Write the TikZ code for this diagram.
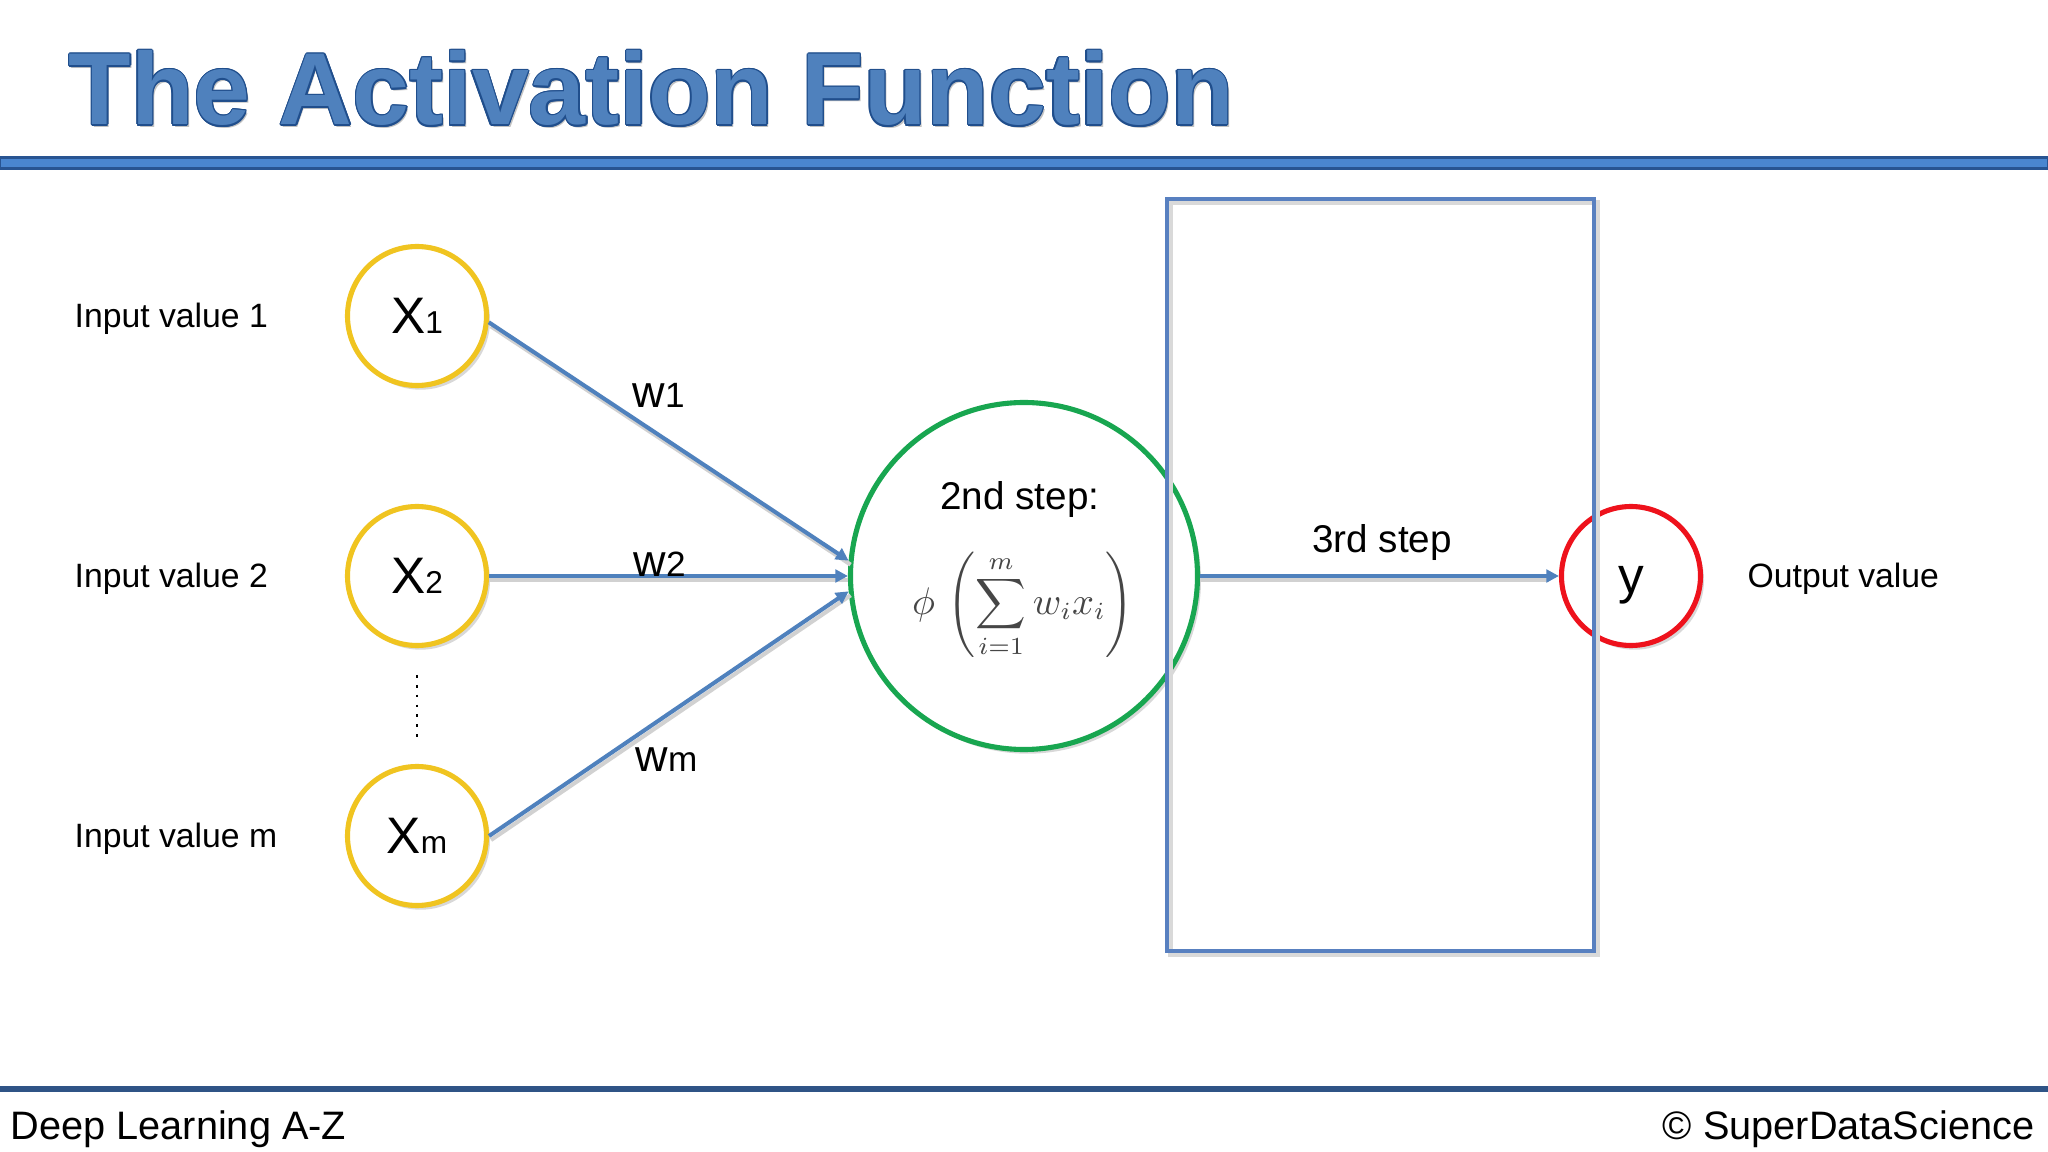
\documentclass[tikz,border=0pt]{standalone}
\usepackage{fontspec}
\setmainfont{Liberation Sans}
\usetikzlibrary{arrows.meta,shadows}
\definecolor{yel}{RGB}{240,196,32}
\definecolor{grn}{RGB}{24,166,80}
\definecolor{rd}{RGB}{238,18,28}
\definecolor{lblue}{RGB}{79,129,189}
\definecolor{boxblue}{RGB}{88,128,192}
\definecolor{titlefill}{RGB}{79,129,189}
\definecolor{titleline}{RGB}{32,78,140}
\definecolor{topfill}{RGB}{74,134,208}
\definecolor{topedge}{RGB}{40,84,146}
\definecolor{botblue}{RGB}{47,84,134}
\definecolor{fgray}{RGB}{70,70,70}
\begin{document}
\begin{tikzpicture}[x=1cm,y=1cm,
  shad/.style={drop shadow={shadow xshift=1pt,shadow yshift=-1.2pt,opacity=0.3}},
  inp/.style={circle, draw=yel, line width=1.45pt, fill=white, minimum size=1.39cm, inner sep=0pt, shad, font=\fontsize{14.6pt}{16pt}\selectfont},
  lbl/.style={anchor=west, inner sep=0pt, font=\fontsize{9.6pt}{11pt}\selectfont},
  conn/.style={draw=lblue, line width=1.15pt, -{Triangle[length=3.6pt,width=3.6pt]}},
  lshad/.style={draw=black!18, line width=1.15pt},
  wl/.style={anchor=base west, inner sep=0pt, font=\fontsize{12.8pt}{14pt}\selectfont},
  ttl/.style={anchor=base west, inner sep=0pt, font=\fontsize{29.1pt}{32pt}\selectfont\bfseries},
  foot/.style={inner sep=0pt, font=\fontsize{11.3pt}{13pt}\selectfont},
]
\useasboundingbox (0,0) rectangle (20.48,-11.52);
\fill[white] (0,0) rectangle (20.48,-11.52);

% title
\node[ttl, text=black!40, opacity=0.6] (tshadow) at (0.70,-1.28) {The Activation Function};
\foreach \a in {0,30,...,330}
  \node[ttl, text=titleline, shift={(\a:0.013)}] (tout\a) at (0.68,-1.25) {The Activation Function};
\node[ttl, text=titlefill] (title) at (0.68,-1.25) {The Activation Function};

% rules
\path[fill=topfill, draw=topedge, line width=0.6pt] (0,-1.575) rectangle (20.48,-1.685);
\fill[botblue] (0,-10.86) rectangle (20.48,-10.92);

% input nodes
\node[inp] (x1) at (4.17,-3.16) {X\fontsize{9pt}{10pt}\selectfont 1};
\node[inp] (x2) at (4.17,-5.76) {X\fontsize{9pt}{10pt}\selectfont 2};
\node[inp] (xm) at (4.17,-8.36) {X\fontsize{9pt}{10pt}\selectfont m};

% neuron
\node[circle, draw=grn, line width=1.45pt, fill=white, minimum size=3.47cm, inner sep=0pt, shad] (s) at (10.24,-5.76) {};
% output
\node[circle, draw=rd, line width=1.45pt, fill=white, minimum size=1.39cm, inner sep=0pt, shad] (y) at (16.31,-5.76) {};

% box
\draw[black!15, line width=1.2pt] (11.705,-2.025) rectangle (15.975,-9.545);
\node[draw=boxblue, line width=1.4pt, minimum width=4.27cm, minimum height=7.52cm, inner sep=0pt] (box) at (13.805,-5.75) {};

% dotted
\coordinate (d1) at (4.17,-6.75);
\coordinate (d2) at (4.17,-7.38);
\draw[dotted, line width=0.8pt] (d1) -- (d2);

% connector shadows
\draw[lshad] ([shift={(0.02,-0.04)}]x1.-5) -- ([shift={(0.02,-0.04)}]s.175);
\draw[lshad] ([shift={(0.0,-0.04)}]x2.east) -- ([shift={(0.0,-0.04)}]s.west);
\draw[lshad] ([shift={(0.02,-0.04)}]xm.east) -- ([shift={(0.02,-0.04)}]s.185);
\draw[lshad] ([shift={(0.0,-0.04)}]s.east) -- ([shift={(-0.1,-0.04)}]y.west);
% connectors
\draw[conn] (x1.-5) -- (s.175);
\draw[conn] (x2.east) -- (s.west);
\draw[conn] (xm.east) -- (s.185);
\draw[conn] (s.east) -- (y.west);

% labels
\node[anchor=base, inner sep=0pt, font=\fontsize{14.6pt}{16pt}\selectfont] (ylab) at ([yshift=-0.18cm]y.center) {y};
\node[lbl] (l1) at (0.74,-3.19) {Input value 1};
\node[lbl] (l2) at (0.74,-5.79) {Input value 2};
\node[lbl] (lm) at (0.74,-8.39) {Input value m};
\node[lbl] (lo) at (17.47,-5.79) {Output value};

\node[wl] (w1) at (6.32,-4.07) {w\fontsize{10pt}{11pt}\selectfont 1};
\node[wl] (w2) at (6.33,-5.77) {w\fontsize{10pt}{11pt}\selectfont 2};
\node[wl] (wm) at (6.35,-7.71) {w\fontsize{10pt}{11pt}\selectfont m};

\node[anchor=base, inner sep=0pt, font=\fontsize{11pt}{13pt}\selectfont] (st2) at (10.20,-5.10) {2nd step:};
\node[anchor=base, inner sep=0pt, font=\fontsize{11pt}{13pt}\selectfont] (st3) at (13.82,-5.52) {3rd step};
\node[inner sep=0pt, text=fgray, font=\fontsize{10.6pt}{13pt}\selectfont] (f) at (10.23,-6.05) {$\displaystyle \phi\,\left(\sum_{i=1}^{m} w_i x_i\right)$};

% footer
\node[foot, anchor=base west] (fl) at (0.10,-11.40) {Deep Learning A-Z};
\node[foot, anchor=base east] (fr) at (20.35,-11.40) {© SuperDataScience};
\end{tikzpicture}
\end{document}
